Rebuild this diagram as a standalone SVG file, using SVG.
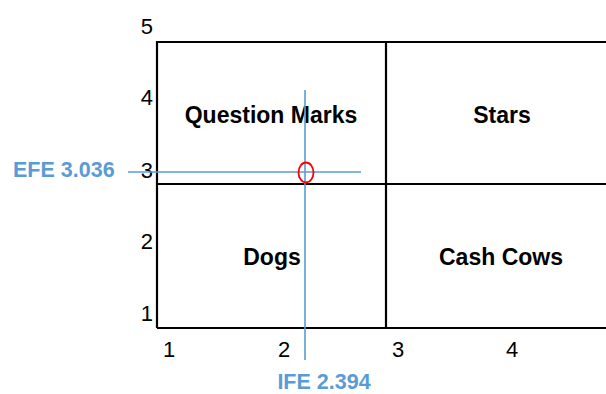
<svg xmlns="http://www.w3.org/2000/svg" width="606" height="394" viewBox="0 0 606 394">
<style>
.ax{font-family:"Liberation Sans",Arial,sans-serif;font-size:22px;fill:#000}
.q{font-family:"Liberation Sans",Arial,sans-serif;font-size:23px;font-weight:bold;fill:#000;text-anchor:middle}
.b{font-family:"Liberation Sans",Arial,sans-serif;font-size:21.5px;font-weight:bold;fill:#5B9BD5}
.grid{stroke:#000;stroke-width:2.2;fill:none}
.blue{stroke:#5B9BD5;stroke-width:1.6;fill:none}
</style>
<rect width="606" height="394" fill="#fff"/>
<g id="grid">
<path class="grid" d="M157,328 V42 H607 M157,328 H607 M386,42 V328 M157,184 H607"/>
</g>
<g id="axis-labels">
<text class="ax" x="153" y="34" text-anchor="end">5</text>
<text class="ax" x="153" y="105" text-anchor="end">4</text>
<text class="ax" x="153" y="178" text-anchor="end">3</text>
<text class="ax" x="153" y="249" text-anchor="end">2</text>
<text class="ax" x="153" y="321" text-anchor="end">1</text>
<text class="ax" x="169" y="357" text-anchor="middle">1</text>
<text class="ax" x="284" y="357" text-anchor="middle">2</text>
<text class="ax" x="398" y="357" text-anchor="middle">3</text>
<text class="ax" x="512" y="357" text-anchor="middle">4</text>
</g>
<g id="question-marks"><text class="q" x="271" y="123">Question Marks</text></g>
<g id="stars"><text class="q" x="502" y="123">Stars</text></g>
<g id="dogs"><text class="q" x="272" y="265">Dogs</text></g>
<g id="cash-cows"><text class="q" x="501" y="265">Cash Cows</text></g>
<g id="connectors">
<line class="blue" x1="305" y1="90" x2="305" y2="360"/>
<line class="blue" x1="128" y1="172" x2="361" y2="172"/>
</g>
<g id="point"><ellipse cx="306" cy="172.5" rx="7.5" ry="10" fill="none" stroke="#FF0000" stroke-width="1.8"/></g>
<g id="efe"><text class="b" x="13" y="177">EFE 3.036</text></g>
<g id="ife"><text class="b" x="324" y="389" text-anchor="middle">IFE 2.394</text></g>
</svg>
